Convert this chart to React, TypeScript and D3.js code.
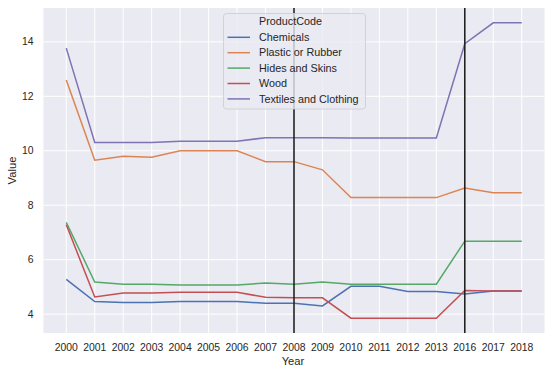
import { useMemo } from "react";
import { line, scaleLinear, scalePoint } from "d3";

const W = 552;
const H = 374;
const M = { top: 8, right: 7.5, bottom: 41, left: 43.5 };

const years = ["2000", "2001", "2002", "2003", "2004", "2005", "2006", "2007", "2008", "2009", "2010", "2011", "2012", "2013", "2016", "2017", "2018"];

const chemicals = [5.28, 4.46, 4.43, 4.43, 4.46, 4.46, 4.46, 4.4, 4.4, 4.3, 5.02, 5.02, 4.83, 4.83, 4.74, 4.85, 4.85];
const plastic = [12.6, 9.65, 9.8, 9.76, 10.0, 10.0, 10.0, 9.6, 9.6, 9.3, 8.28, 8.28, 8.28, 8.28, 8.63, 8.46, 8.46];
const hides = [7.37, 5.18, 5.1, 5.1, 5.07, 5.07, 5.07, 5.14, 5.1, 5.18, 5.1, 5.1, 5.1, 5.1, 6.68, 6.68, 6.68];
const wood = [7.28, 4.63, 4.78, 4.78, 4.8, 4.8, 4.8, 4.62, 4.6, 4.6, 3.85, 3.85, 3.85, 3.85, 4.87, 4.85, 4.85];
const textiles = [13.77, 10.3, 10.3, 10.3, 10.35, 10.35, 10.35, 10.48, 10.48, 10.48, 10.47, 10.47, 10.47, 10.47, 13.93, 14.7, 14.7];

const seriesNames = ["Chemicals", "Plastic or Rubber", "Hides and Skins", "Wood", "Textiles and Clothing"];
const seriesValues = [chemicals, plastic, hides, wood, textiles];
const colors = ["#4C72B0", "#DD8452", "#55A868", "#C44E52", "#8172B3"];

const yTicks = [4, 6, 8, 10, 12, 14];
const markedYears = ["2008", "2016"];

const ink = "#262626";
const font = "'Liberation Sans', Arial, sans-serif";

export default function App() {
  const x = useMemo(
    () => scalePoint<string>().domain(years).range([M.left, W - M.right]).padding(0.8),
    []
  );

  const y = useMemo(() => {
    const all = seriesValues.flat();
    const lo = Math.min(...all);
    const hi = Math.max(...all);
    const pad = (hi - lo) * 0.05;
    return scaleLinear().domain([lo - pad, hi + pad]).range([H - M.bottom, M.top]);
  }, []);

  const path = line<number>()
    .x((_, i) => x(years[i]) ?? 0)
    .y((d) => y(d));

  const lg = { x: 223.5, y: 13.5, w: 142, h: 95.5 };
  const rowH = 15.4;

  return (
    <div style={{ position: "absolute", left: 0, top: 0 }}>
      <svg width={W} height={H} viewBox={`0 0 ${W} ${H}`} style={{ display: "block", fontFamily: font }}>
        <rect x={0} y={0} width={W} height={H} fill="#fff" />
        <rect x={M.left} y={M.top} width={W - M.left - M.right} height={H - M.top - M.bottom} fill="#EAEAF2" />

        {yTicks.map((t) => (
          <g key={t}>
            <line x1={M.left} x2={W - M.right} y1={y(t)} y2={y(t)} stroke="#fff" strokeWidth={1} />
            <text x={M.left - 10} y={y(t)} dy="0.35em" textAnchor="end" fontSize={10.4} fill={ink}>
              {t}
            </text>
          </g>
        ))}

        {years.map((yr) => (
          <g key={yr}>
            <line x1={x(yr)} x2={x(yr)} y1={M.top} y2={H - M.bottom} stroke="#fff" strokeWidth={1} />
            <text x={x(yr)} y={H - M.bottom + 14} dy="0.35em" textAnchor="middle" fontSize={10.4} fill={ink}>
              {yr}
            </text>
          </g>
        ))}

        {seriesValues.map((vals, i) => (
          <path key={seriesNames[i]} d={path(vals) ?? undefined} fill="none" stroke={colors[i]} strokeWidth={1.5} />
        ))}

        {markedYears.map((yr) => (
          <line key={yr} x1={x(yr)} x2={x(yr)} y1={M.top} y2={H - M.bottom} stroke="#222" strokeWidth={1.6} />
        ))}

        <text x={293} y={361.5} dy="0.35em" textAnchor="middle" fontSize={11.2} fill={ink}>
          Year
        </text>
        <text transform={`translate(12.5, ${(M.top + H - M.bottom) / 2}) rotate(-90)`} dy="0.35em" textAnchor="middle" fontSize={11.2} fill={ink}>
          Value
        </text>

        <g>
          <rect x={lg.x} y={lg.y} width={lg.w} height={lg.h} rx={3} fill="#EAEAF2" fillOpacity={0.8} stroke="#cccccc" strokeWidth={0.8} />
          <text x={259} y={lg.y + 7.7} dy="0.35em" fontSize={10.8} fill={ink}>
            ProductCode
          </text>
          {seriesNames.map((n, i) => {
            const cy = lg.y + 23.8 + i * rowH;
            return (
              <g key={n}>
                <line x1={227.5} x2={250} y1={cy} y2={cy} stroke={colors[i]} strokeWidth={1.5} />
                <text x={259} y={cy} dy="0.35em" fontSize={10.8} fill={ink}>
                  {n}
                </text>
              </g>
            );
          })}
        </g>
      </svg>
    </div>
  );
}
